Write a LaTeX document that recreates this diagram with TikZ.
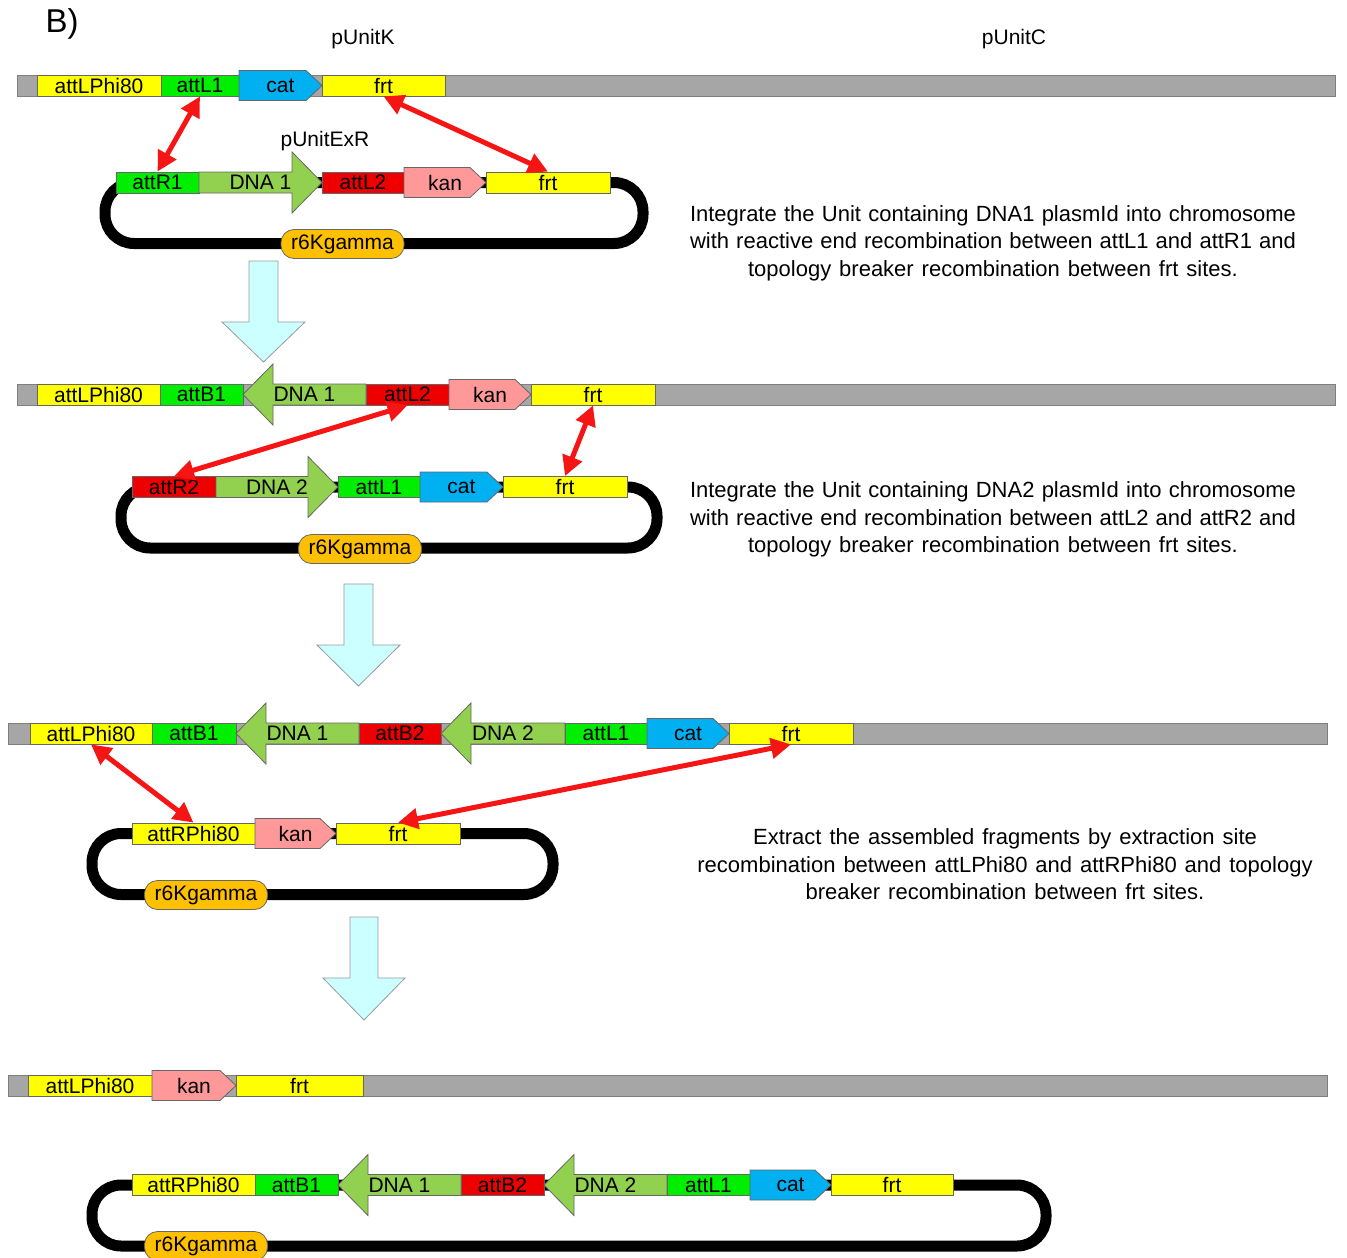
\documentclass[tikz,border=0pt]{standalone}
\usepackage{fontspec}
\setmainfont{Liberation Sans}
\newfontfamily\descfam[WordSpace=1.3]{Liberation Sans}
\usetikzlibrary{arrows.meta}
\definecolor{cyel}{HTML}{FFFF00}
\definecolor{cgrn}{HTML}{00EE00}
\definecolor{cdna}{HTML}{92D050}
\definecolor{cred}{HTML}{EE0000}
\definecolor{cpink}{HTML}{FF9999}
\definecolor{cblue}{HTML}{00B0F0}
\definecolor{corange}{HTML}{FFC000}
\definecolor{cgray}{HTML}{A6A6A6}
\definecolor{cgrayd}{HTML}{7F7F7F}
\definecolor{carrowred}{HTML}{F51515}
\definecolor{ccyan}{HTML}{CCFFFF}
\newcommand\lblfont{\fontsize{21}{25}\selectfont}
\newcommand\descfont{\descfam\fontsize{22}{27.5}\selectfont}
\newcommand\jline[1]{\makebox[606pt][s]{#1}}
\tikzset{
 segline/.style={draw=black!60, line width=0.8pt},
 seg/.style={segline, rectangle, inner sep=0pt, minimum height=21pt, font=\lblfont},
 lbl/.style={inner sep=0pt, font=\lblfont},
 chrom/.style={fill=cgray, draw=cgrayd, line width=1pt},
 loopline/.style={draw=black, line width=11pt, rounded corners=29pt},
 pill/.style={draw=black!60, line width=0.8pt, fill=corange, rounded corners=13pt, minimum width=123pt, minimum height=29pt, inner sep=0pt, font=\lblfont},
 rarrow/.style={carrowred, line width=5pt, {Triangle[length=20pt,width=20pt]}-{Triangle[length=20pt,width=20pt]}},
 procarrow/.style={fill=ccyan, draw=black!40, line width=0.8pt},
 desc/.style={align=center, font=\descfont, inner sep=0pt},
}
% rectangle segment: name, x1, x2, yc, fill, text
\newcommand\rseg[6]{\node[seg,fill=#5,minimum width={(#3)-(#2)}] (#1) at ({((#2)+(#3))/2},#4) {#6};}
% pentagon segment: name, x1, x2, yc, fill, text
\newcommand\pseg[6]{%
 \filldraw[segline,fill=#5] (#2,{#4-15}) -- ({#3-16},{#4-15}) -- (#3,#4) -- ({#3-16},{#4+15}) -- (#2,{#4+15}) -- cycle;
 \node[lbl] (#1) at ({((#2)+(#3))/2},#4) {#6};}
% DNA arrow pointing right: name, x1, x2, yc, text
\newcommand\darR[5]{%
 \filldraw[segline,fill=cdna] (#2,{#4-10.5}) -- ({#3-30},{#4-10.5}) -- ({#3-30},{#4-30.5}) -- (#3,#4) -- ({#3-30},{#4+30.5}) -- ({#3-30},{#4+10.5}) -- (#2,{#4+10.5}) -- cycle;
 \node[lbl] (#1) at ({((#2)+(#3))/2},#4) {#5};}
% DNA arrow pointing left: name, x1 (tip), x2, yc, text
\newcommand\darL[5]{%
 \filldraw[segline,fill=cdna] (#3,{#4-10.5}) -- ({#2+30},{#4-10.5}) -- ({#2+30},{#4-30.5}) -- (#2,#4) -- ({#2+30},{#4+30.5}) -- ({#2+30},{#4+10.5}) -- (#3,{#4+10.5}) -- cycle;
 \node[lbl] (#1) at ({((#2)+(#3))/2},#4) {#5};}
\begin{document}
\begin{tikzpicture}[x=1pt,y=-1pt]
\useasboundingbox (0,0) rectangle (1347,1258);
% titles
\node[inner sep=0pt,font=\fontsize{33}{35}\selectfont] (lb) at (62,24) {B)};
\node[lbl] (lk) at (363,39) {pUnitK};
\node[lbl] (lc) at (1014,39) {pUnitC};
\node[lbl] (le) at (325,141) {pUnitExR};
% ---------- row 1
\draw[chrom] (17,75) rectangle (1335,96);
\rseg{c1a}{37}{161}{85.5}{cyel}{attLPhi80}
\rseg{c1b}{161}{239}{85.5}{cgrn}{attL1}
\pseg{c1c}{239}{322}{85.5}{cblue}{cat}
\rseg{c1d}{322}{445}{85.5}{cyel}{frt}
% plasmid 1
\draw[loopline] (105,182.5) rectangle (643,243.5);
\rseg{p1a}{116}{199}{182.5}{cgrn}{attR1}
\darR{p1b}{199}{322}{182.5}{DNA 1}
\rseg{p1c}{322}{404}{182.5}{cred}{attL2}
\pseg{p1d}{404}{486}{182.5}{cpink}{kan}
\rseg{p1e}{486}{610}{182.5}{cyel}{frt}
\node[pill] (p1o) at (342.5,244) {r6Kgamma};
\node[desc] (t1) at (993,243) {\jline{Integrate the Unit containing DNA1 plasmId into chromosome}\\
\jline{with reactive end recombination between attL1 and attR1 and}\\
topology breaker recombination between frt sites.};
\filldraw[procarrow] (249,261) -- (278,261) -- (278,322) -- (305,322) -- (263.5,362) -- (222,322) -- (249,322) -- cycle;
% ---------- row 2
\draw[chrom] (17,384) rectangle (1335,405);
\rseg{c2a}{37}{160}{394.5}{cyel}{attLPhi80}
\rseg{c2b}{160}{243}{394.5}{cgrn}{attB1}
\darL{c2c}{243}{366}{394.5}{DNA 1}
\rseg{c2d}{366}{449}{394.5}{cred}{attL2}
\pseg{c2e}{449}{531}{394.5}{cpink}{kan}
\rseg{c2f}{531}{655}{394.5}{cyel}{frt}
% plasmid 2
\draw[loopline] (121,487) rectangle (657,548);
\rseg{p2a}{132}{216}{487}{cred}{attR2}
\darR{p2b}{216}{338}{487}{DNA 2}
\rseg{p2c}{338}{420}{487}{cgrn}{attL1}
\pseg{p2d}{420}{503}{487}{cblue}{cat}
\rseg{p2e}{503}{627}{487}{cyel}{frt}
\node[pill] (p2o) at (360,549) {r6Kgamma};
\node[desc] (t2) at (993,519.5) {\jline{Integrate the Unit containing DNA2 plasmId into chromosome}\\
\jline{with reactive end recombination between attL2 and attR2 and}\\
topology breaker recombination between frt sites.};
\filldraw[procarrow] (344,584) -- (373,584) -- (373,645) -- (400,645) -- (358.5,686) -- (317,645) -- (344,645) -- cycle;
% ---------- row 3
\draw[chrom] (8,723) rectangle (1327,744);
\rseg{c3a}{30}{152}{733.5}{cyel}{attLPhi80}
\rseg{c3b}{152}{236}{733.5}{cgrn}{attB1}
\darL{c3c}{236}{359}{733.5}{DNA 1}
\rseg{c3d}{359}{441}{733.5}{cred}{attB2}
\darL{c3e}{441}{565}{733.5}{DNA 2}
\rseg{c3f}{565}{647}{733.5}{cgrn}{attL1}
\pseg{c3g}{647}{729}{733.5}{cblue}{cat}
\rseg{c3h}{729}{853}{733.5}{cyel}{frt}
% plasmid 3
\draw[loopline] (92,833.5) rectangle (553,894.5);
\rseg{p3a}{132}{255}{833.5}{cyel}{attRPhi80}
\pseg{p3b}{255}{336}{833.5}{cpink}{kan}
\rseg{p3c}{336}{460}{833.5}{cyel}{frt}
\node[pill] (p3o) at (206,895) {r6Kgamma};
\node[desc] (t3) at (1005,864.5) {Extract the assembled fragments by extraction site\\
recombination between attLPhi80 and attRPhi80 and topology\\
breaker recombination between frt sites.};
\filldraw[procarrow] (350,917) -- (378,917) -- (378,978) -- (405,978) -- (364,1020) -- (323,978) -- (350,978) -- cycle;
% ---------- row 4
\draw[chrom] (8,1075) rectangle (1327,1096);
\rseg{c4a}{28}{152}{1085.5}{cyel}{attLPhi80}
\pseg{c4b}{152}{236}{1085.5}{cpink}{kan}
\rseg{c4c}{236}{363}{1085.5}{cyel}{frt}
% plasmid 4
\draw[loopline] (92,1185) rectangle (1046,1246);
\rseg{p4a}{132}{255}{1185}{cyel}{attRPhi80}
\rseg{p4b}{255}{338}{1185}{cgrn}{attB1}
\darL{p4c}{338}{461}{1185}{DNA 1}
\rseg{p4d}{461}{544}{1185}{cred}{attB2}
\darL{p4e}{544}{667}{1185}{DNA 2}
\rseg{p4f}{667}{750}{1185}{cgrn}{attL1}
\pseg{p4g}{750}{831}{1185}{cblue}{cat}
\rseg{p4h}{831}{953}{1185}{cyel}{frt}
\node[pill] (p4o) at (206,1246) {r6Kgamma};
% ---------- recombination arrows
\draw[rarrow] (c1b.south) -- (p1a.north);
\draw[rarrow] (c1d.south) -- (p1e.north);
\draw[rarrow] (c2d.south) -- (p2a.north);
\draw[rarrow] (c2f.south) -- (p2e.north);
\draw[rarrow] (c3a.south) -- (p3a.north);
\draw[rarrow] (c3h.south) -- (p3c.north);
\end{tikzpicture}
\end{document}
